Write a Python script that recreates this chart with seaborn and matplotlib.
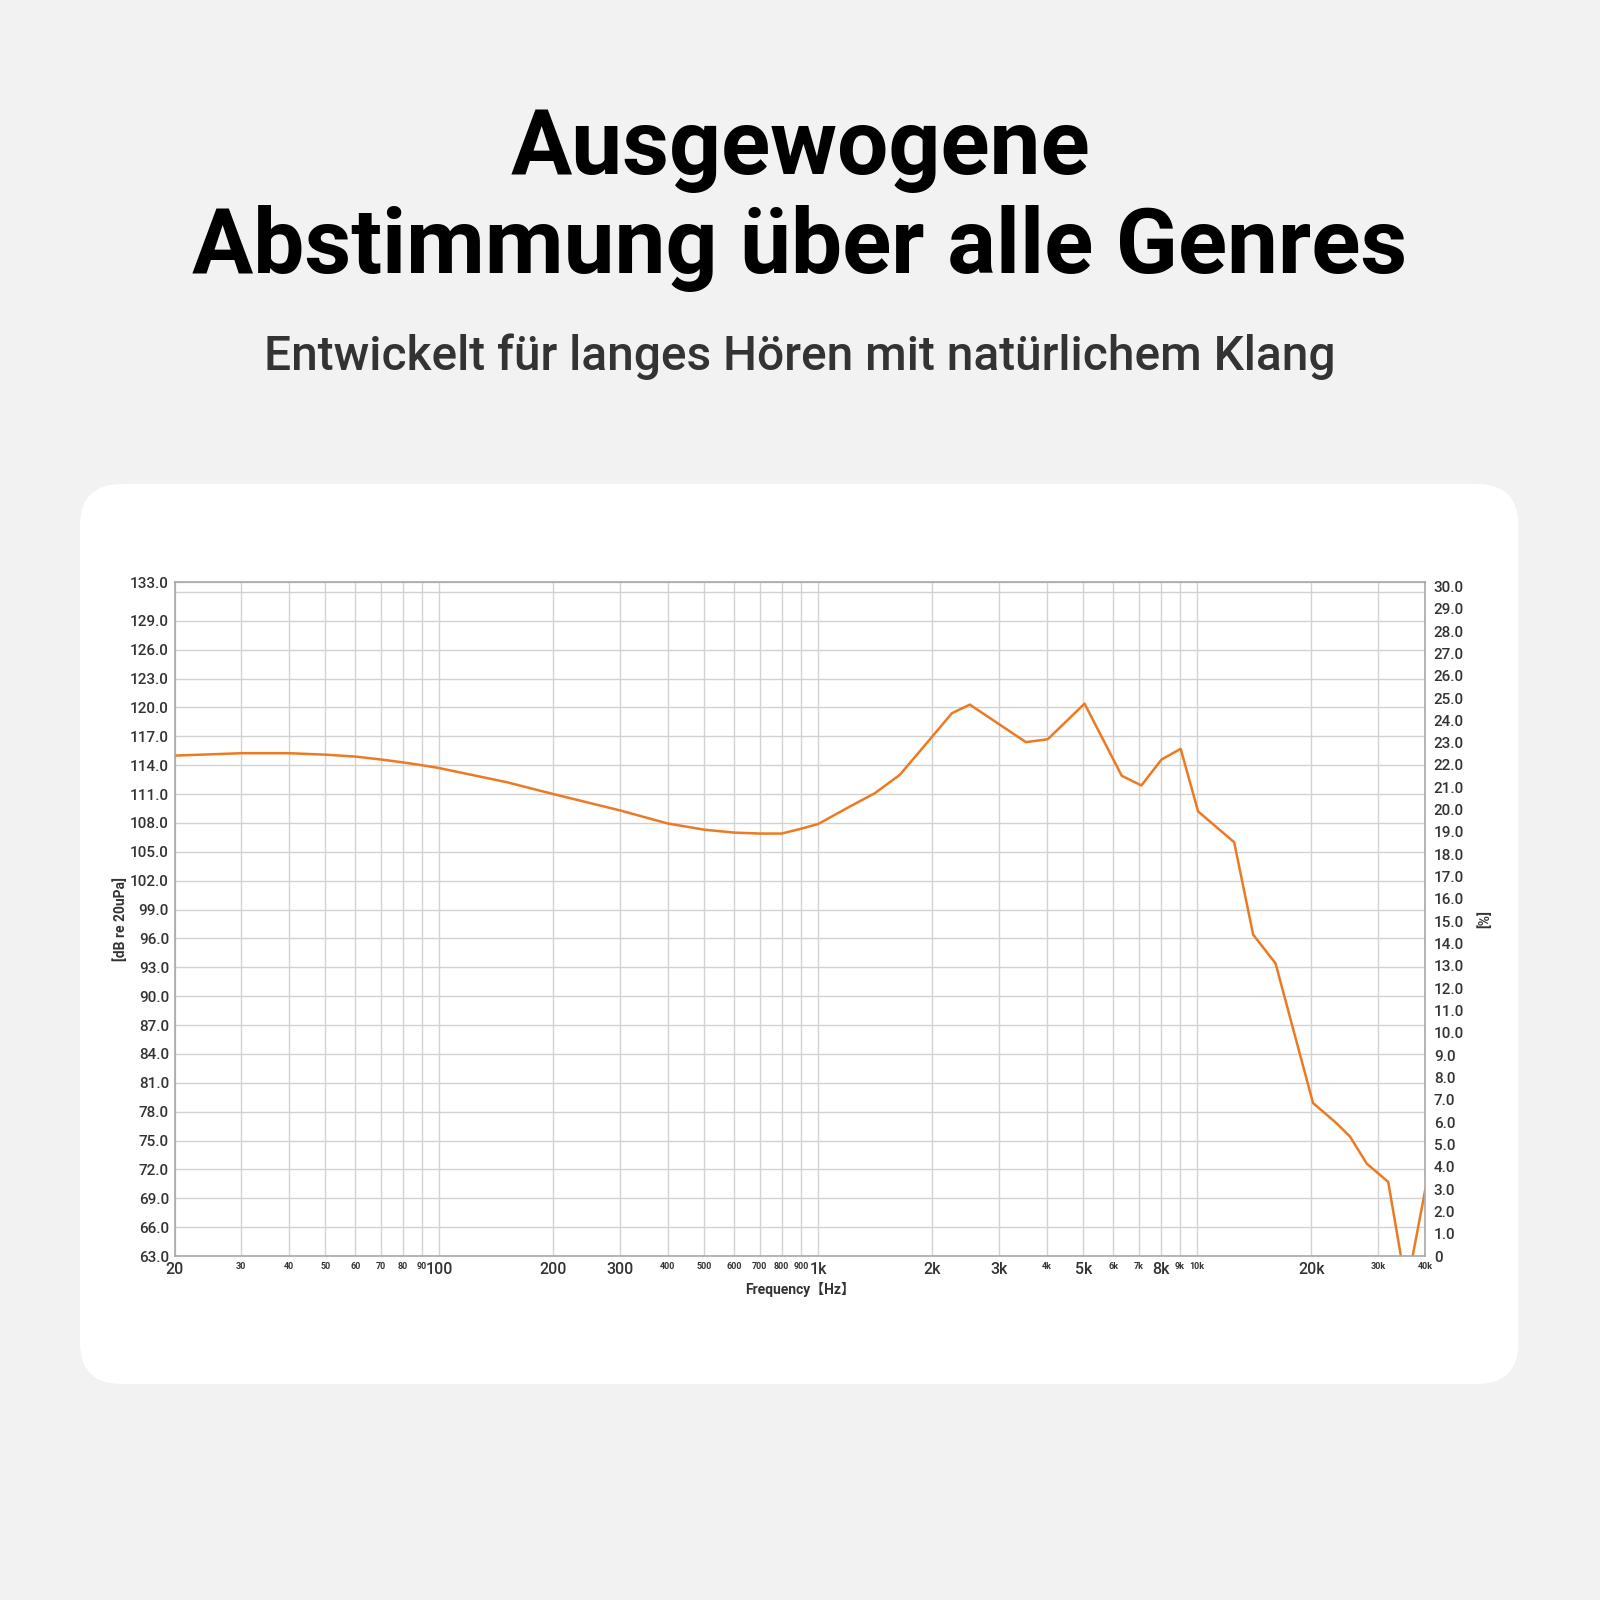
import numpy as np
import pandas as pd
import seaborn as sns
import matplotlib.pyplot as plt
from matplotlib.patches import FancyBboxPatch
from matplotlib.ticker import FixedLocator

# frequency response
freq = [20, 30, 40, 50, 60, 70, 80, 90, 100, 150, 200, 300, 400, 500, 600, 700, 800, 900,
        1000, 1210, 1410, 1640, 2000, 2250, 2510, 3530, 4030, 5040, 6320, 7120, 8050,
        9040, 10050, 12510, 14040, 16090, 20200, 23300, 25300, 28000, 31900, 35650, 40000]
spl = [115.0, 115.25, 115.25, 115.1, 114.9, 114.6, 114.3, 114.0, 113.7, 112.25, 111.0, 109.3,
       107.95, 107.3, 107.0, 106.9, 106.9, 107.4, 107.9, 109.7, 111.1, 113.0, 117.0,
       119.4, 120.3, 116.4, 116.7, 120.4, 112.9, 111.9, 114.6, 115.7, 109.2, 106.0,
       96.4, 93.4, 78.9, 76.8, 75.4, 72.6, 70.7, 59.6, 70.0]

x_ticks = [20, 30, 40, 50, 60, 70, 80, 90, 100, 200, 300, 400, 500, 600, 700, 800, 900,
           1000, 2000, 3000, 4000, 5000, 6000, 7000, 8000, 9000, 10000, 20000, 30000, 40000]
x_labels = ["20", "30", "40", "50", "60", "70", "80", "90", "100", "200", "300", "400",
            "500", "600", "700", "800", "900", "1k", "2k", "3k", "4k", "5k", "6k", "7k",
            "8k", "9k", "10k", "20k", "30k", "40k"]
big_labels = ["20", "100", "200", "300", "1k", "2k", "3k", "5k", "8k", "20k"]

left_ticks = list(range(63, 130, 3)) + [133]
right_ticks = list(range(0, 31))

df = pd.DataFrame({"Frequency": freq, "SPL": spl})

sns.set_theme(style="white")
plt.rcParams['font.family'] = ['Roboto', 'DejaVu Sans']

fig = plt.figure(figsize=(16, 16), dpi=100)
fig.patch.set_facecolor("#f2f2f2")

# white card behind the chart
card = FancyBboxPatch((0.05, 0.135), 0.899, 0.5625,
                      boxstyle="round,pad=0,rounding_size=0.026",
                      transform=fig.transFigure, facecolor="white",
                      edgecolor="none", zorder=-5)
fig.patches.append(card)

fig.text(0.5, 0.906, "Ausgewogene", ha="center", va="center",
         fontsize=65.5, fontweight="bold", color="black")
fig.text(0.5, 0.845, "Abstimmung über alle Genres", ha="center", va="center",
         fontsize=65.5, fontweight="bold", color="black")
fig.text(0.5, 0.777, "Entwickelt für langes Hören mit natürlichem Klang",
         ha="center", va="center", fontsize=34.5, fontweight="medium", color="#333333")

ax = fig.add_axes([0.1091, 0.215, 0.7818, 0.421])
ax.set_facecolor("white")
sns.lineplot(data=df, x="Frequency", y="SPL", ax=ax, color="#ec7a22",
             linewidth=1.8, sort=False)
ax.set_xscale("log")
ax.set_xlim(20, 40000)
ax.set_ylim(63, 133)

ax.xaxis.set_major_locator(FixedLocator(x_ticks))
ax.xaxis.set_minor_locator(FixedLocator([]))
ax.set_xticklabels(x_labels)
for lab in ax.get_xticklabels():
    if lab.get_text() in big_labels:
        lab.set_fontsize(11.5)
        lab.set_fontweight("medium")
    else:
        lab.set_fontsize(6.5)
        lab.set_fontweight("bold")
    lab.set_color("#333333")

ax.set_yticks(left_ticks)
ax.set_yticklabels([f"{v:.1f}" for v in left_ticks], fontsize=11,
                   fontweight="medium", color="#333333")
ax.yaxis.set_minor_locator(FixedLocator([132]))
ax.tick_params(axis="both", which="both", length=0, pad=4)

ax.grid(True, which="major", color="#d2d2d2", linewidth=1)
ax.grid(True, which="minor", axis="y", color="#d2d2d2", linewidth=1)
for s in ax.spines.values():
    s.set_color("#a8a8a8")
    s.set_linewidth(1.2)

ax.set_xlabel("Frequency【Hz】", fontsize=10, fontweight="bold", color="#333333",
              family=["Roboto", "Noto Sans CJK SC"], labelpad=4)
ax.set_ylabel("[dB re 20uPa]", fontsize=10, fontweight="bold", color="#333333",
              labelpad=1)

ax2 = ax.twinx()
ax2.set_ylim(0, 30.18)
ax2.set_yticks(right_ticks)
ax2.set_yticklabels(["0"] + [f"{v:.1f}" for v in right_ticks[1:]], fontsize=11,
                    fontweight="medium", color="#333333")
ax2.tick_params(axis="y", length=0, pad=6)
ax2.grid(False)
for s in ax2.spines.values():
    s.set_visible(False)
ax2.set_ylabel("[%]", fontsize=10, fontweight="bold", color="#333333",
               rotation=90, labelpad=10)

fig.savefig("out.png", dpi=100, facecolor=fig.get_facecolor())
